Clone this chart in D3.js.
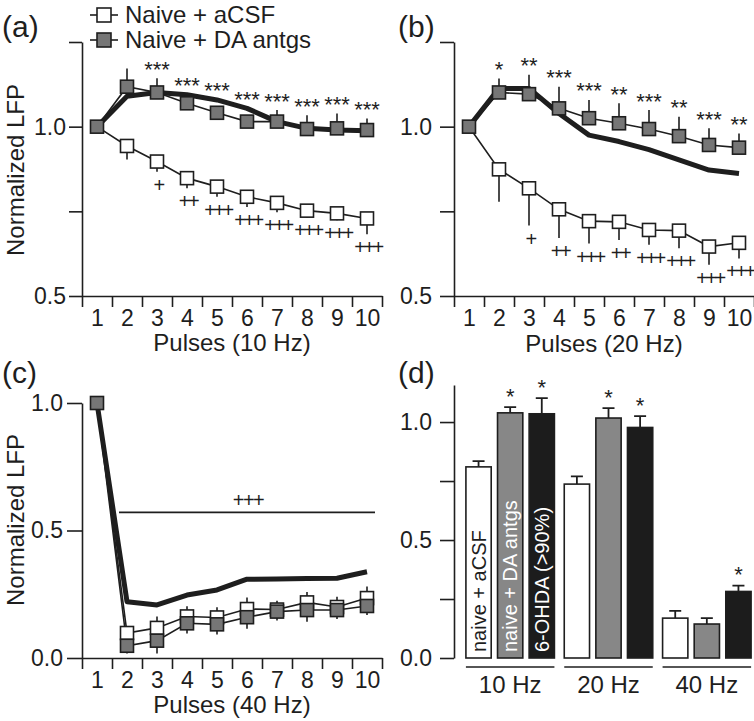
<!DOCTYPE html>
<html><head><meta charset="utf-8">
<script src="https://cdn.jsdelivr.net/npm/d3@7"></script>
<style>
html,body{margin:0;padding:0;background:#fff;}
svg{display:block;font-family:"Liberation Sans",Arial,Helvetica,sans-serif;}
</style></head>
<body>
<svg id="chart" width="754" height="721"></svg>
<script>
// ---------- DATA ----------
const pulses = [1, 2, 3, 4, 5, 6, 7, 8, 9, 10];
const seriesNames = ["Naive + aCSF", "Naive + DA antgs"];

// Panel (a) 10 Hz
const acsfA    = [1.0, 0.943, 0.897, 0.848, 0.823, 0.793, 0.775, 0.752, 0.744, 0.729];
const acsfAErr = [0, 0.040, 0.030, 0.030, 0.030, 0.030, 0.028, 0.020, 0.020, 0.047];
const daA      = [1.0, 1.118, 1.101, 1.069, 1.041, 1.015, 1.015, 0.993, 0.995, 0.990];
const daAErr   = [0, 0.054, 0.042, 0.015, 0.015, 0.015, 0.034, 0.041, 0.044, 0.034];
const ohdaA    = [1.0, 1.090, 1.101, 1.094, 1.079, 1.054, 1.015, 0.995, 0.990, 0.988];
const starsA   = ["", "", "***", "***", "***", "***", "***", "***", "***", "***"];
const plusA    = ["", "", "+", "++", "+++", "+++", "+++", "+++", "+++", "+++"];

// Panel (b) 20 Hz
const acsfB    = [1.0, 0.874, 0.818, 0.756, 0.721, 0.719, 0.695, 0.693, 0.646, 0.657];
const acsfBErr = [0, 0.096, 0.110, 0.085, 0.066, 0.054, 0.044, 0.052, 0.054, 0.046];
const daB      = [1.0, 1.101, 1.096, 1.054, 1.025, 1.010, 0.993, 0.972, 0.946, 0.938];
const daBErr   = [0, 0.041, 0.057, 0.064, 0.054, 0.059, 0.056, 0.057, 0.049, 0.042];
const ohdaB    = [1.0, 1.113, 1.113, 1.039, 0.975, 0.956, 0.932, 0.902, 0.872, 0.862];
const starsB   = ["", "*", "**", "***", "***", "**", "***", "**", "***", "**"];
const plusB    = ["", "", "+", "++", "+++", "++", "+++", "+++", "+++", "+++"];

// Panel (c) 40 Hz
const acsfC    = [1.0, 0.098, 0.118, 0.163, 0.159, 0.192, 0.190, 0.218, 0.200, 0.235];
const acsfCErr = [0, 0.020, 0.045, 0.040, 0.040, 0.045, 0.035, 0.041, 0.040, 0.045];
const daC      = [1.0, 0.048, 0.068, 0.136, 0.132, 0.160, 0.182, 0.188, 0.188, 0.204];
const daCErr   = [0, 0.030, 0.050, 0.040, 0.040, 0.045, 0.035, 0.046, 0.035, 0.035];
const ohdaC    = [1.0, 0.221, 0.208, 0.247, 0.267, 0.309, 0.310, 0.312, 0.313, 0.338];
const sigCLevel = 0.571;
const sigCLabel = "+++";
const sigCFrom = 2, sigCTo = 10;

// Panel (d) bars
const freqs = ["10 Hz", "20 Hz", "40 Hz"];
const conds = ["naive + aCSF", "naive + DA antgs", "6-OHDA (>90%)"];
const barAcsf    = [0.810, 0.737, 0.169];
const barAcsfErr = [0.024, 0.033, 0.031];
const barDa      = [1.039, 1.017, 0.144];
const barDaErr   = [0.024, 0.042, 0.025];
const barOhda    = [1.035, 0.977, 0.282];
const barOhdaErr = [0.066, 0.048, 0.025];
const barStars   = [["", "*", "*"], ["", "*", "*"], ["", "", "*"]];

const yTicksAB = [0.5, 0.75, 1.0, 1.25];
const yTicksC = [0.0, 0.5, 1.0];
const yTicksD = [0.0, 0.25, 0.5, 0.75, 1.0];
const xEdges = [0.5, 1.5, 2.5, 3.5, 4.5, 5.5, 6.5, 7.5, 8.5, 9.5, 10.5];

// ---------- STYLE ----------
const INK = "#1e1e1e";
const GRAY_MK = "#767676";
const GRAY_BAR = "#878787";
const BLACK_BAR = "#1c1c1c";
const FS = 23;

const svg = d3.select("#chart");

function styleAxis(g) {
  g.selectAll("path.domain").attr("stroke", INK).attr("stroke-width", 1.6);
  g.selectAll(".tick line").attr("stroke", INK).attr("stroke-width", 1.6);
  g.selectAll(".tick text").attr("fill", INK).attr("font-size", FS)
    .attr("font-family", '"Liberation Sans",Arial,sans-serif');
}

function linePanel(opt) {
  const g = svg.append("g");
  const x = d3.scaleLinear().domain([0.5, 10.5]).range(opt.xr);
  const y = d3.scaleLinear().domain(opt.yd).range(opt.yr);

  const ya = g.append("g").attr("transform", `translate(${opt.xr[0]},0)`)
    .call(d3.axisLeft(y).tickValues(opt.yTicks).tickSize(opt.tickSize).tickSizeOuter(0)
      .tickPadding(opt.tickPad)
      .tickFormat(d => opt.yLabels.includes(d) ? d3.format(".1f")(d) : ""));
  styleAxis(ya);
  const xa = g.append("g").attr("transform", `translate(0,${opt.yr[0]})`)
    .call(d3.axisBottom(x).tickValues(xEdges).tickSize(11).tickSizeOuter(0).tickFormat(""));
  styleAxis(xa);
  const xl = g.append("g").attr("transform", `translate(0,${opt.yr[0]})`)
    .call(d3.axisBottom(x).tickValues(pulses).tickSize(0).tickPadding(14).tickFormat(d3.format("d")));
  styleAxis(xl);
  xl.select("path.domain").remove();

  g.append("text").attr("x", (opt.xr[0] + opt.xr[1]) / 2).attr("y", opt.xTitleY)
    .attr("text-anchor", "middle").attr("font-size", 24).attr("fill", INK).text(opt.xTitle);
  if (opt.yTitle) {
    g.append("text").attr("transform", `translate(${opt.yTitleX},${opt.yTitleY}) rotate(-90)`)
      .attr("text-anchor", "middle").attr("font-size", 24).attr("fill", INK).text(opt.yTitle);
  }
  g.append("text").attr("x", opt.labelPos[0]).attr("y", opt.labelPos[1])
    .attr("font-size", 30).attr("fill", INK).text(opt.label);

  const idx = pulses.map((p, i) => i);
  const ln = arr => d3.line().x(i => x(pulses[i])).y(i => y(arr[i]));

  g.append("path").attr("d", ln(opt.ohda)(idx)).attr("fill", "none")
    .attr("stroke", INK).attr("stroke-width", 5).attr("stroke-linejoin", "round");

  [opt.acsf, opt.da].forEach(arr => {
    g.append("path").attr("d", ln(arr)(idx)).attr("fill", "none")
      .attr("stroke", INK).attr("stroke-width", 1.6);
  });

  const eb = (arr, err, dir) => g.append("g").selectAll("line").data(idx.filter(i => err[i] > 0)).join("line")
    .attr("x1", i => x(pulses[i])).attr("x2", i => x(pulses[i]))
    .attr("y1", i => y(arr[i])).attr("y2", i => y(arr[i] + dir * err[i]))
    .attr("stroke", INK).attr("stroke-width", 1.6);
  eb(opt.acsf, opt.acsfErr, opt.acsfDir);
  eb(opt.da, opt.daErr, opt.daDir);

  const MS = 13;
  const mk = (arr, fill, ids) => g.append("g").selectAll("rect").data(ids).join("rect")
    .attr("x", i => x(pulses[i]) - MS / 2).attr("y", i => y(arr[i]) - MS / 2)
    .attr("width", MS).attr("height", MS).attr("fill", fill)
    .attr("stroke", INK).attr("stroke-width", 1.6);
  mk(opt.acsf, "#fff", idx.slice(1));
  mk(opt.da, GRAY_MK, idx);

  if (opt.stars) {
    g.append("g").selectAll("text").data(idx.filter(i => opt.stars[i])).join("text")
      .attr("x", i => x(pulses[i])).attr("text-anchor", "middle")
      .attr("y", i => Math.min(y(opt.da[i] + opt.daErr[i]), y(opt.ohda[i]), y(opt.da[i]) - MS / 2) - 1.5)
      .attr("font-size", 22).attr("fill", INK)
      .text(i => opt.stars[i]);
  }
  if (opt.plus) {
    g.append("g").selectAll("text").data(idx.filter(i => opt.plus[i])).join("text")
      .attr("x", i => x(pulses[i]) + 1).attr("text-anchor", "middle")
      .attr("y", i => Math.max(y(opt.acsf[i] - opt.acsfErr[i]), y(opt.acsf[i]) + MS / 2) + 20)
      .attr("font-size", 20).attr("letter-spacing", -2.5).attr("fill", INK)
      .text(i => opt.plus[i]);
  }
  return { g, x, y };
}

// Panel (a)
linePanel({
  xr: [82, 382], yd: [0.5, 1.25], yr: [296, 42], yTicks: yTicksAB, yLabels: [0.5, 1.0],
  tickSize: 13, tickPad: 3,
  xTitle: "Pulses (10 Hz)", xTitleY: 351, yTitle: "Normalized LFP", yTitleX: 24, yTitleY: 170,
  label: "(a)", labelPos: [2, 37],
  acsf: acsfA, acsfErr: acsfAErr, acsfDir: -1, da: daA, daErr: daAErr, daDir: 1, ohda: ohdaA,
  stars: starsA, plus: plusA
});

// Legend
{
  const lg = svg.append("g");
  const rows = [{ name: seriesNames[0], fill: "#fff", cy: 15 }, { name: seriesNames[1], fill: GRAY_MK, cy: 40 }];
  rows.forEach(r => {
    lg.append("line").attr("x1", 90).attr("x2", 118).attr("y1", r.cy).attr("y2", r.cy)
      .attr("stroke", INK).attr("stroke-width", 1.6);
    lg.append("rect").attr("x", 97).attr("y", r.cy - 7).attr("width", 14).attr("height", 14)
      .attr("fill", r.fill).attr("stroke", INK).attr("stroke-width", 1.6);
    lg.append("text").attr("x", 125).attr("y", r.cy + 8).attr("font-size", 24).attr("fill", INK).text(r.name);
  });
}

// Panel (b)
linePanel({
  xr: [454, 754], yd: [0.5, 1.25], yr: [296, 42], yTicks: yTicksAB, yLabels: [0.5, 1.0],
  tickSize: 14, tickPad: 8,
  xTitle: "Pulses (20 Hz)", xTitleY: 352, yTitle: null,
  label: "(b)", labelPos: [398, 37],
  acsf: acsfB, acsfErr: acsfBErr, acsfDir: -1, da: daB, daErr: daBErr, daDir: 1, ohda: ohdaB,
  stars: starsB, plus: plusB
});

// Panel (c)
{
  const p = linePanel({
    xr: [82, 382], yd: [0, 1], yr: [658, 403], yTicks: yTicksC, yLabels: yTicksC,
    tickSize: 15, tickPad: 4,
    xTitle: "Pulses (40 Hz)", xTitleY: 713, yTitle: "Normalized LFP", yTitleX: 24, yTitleY: 520,
    label: "(c)", labelPos: [2, 383],
    acsf: acsfC, acsfErr: acsfCErr, acsfDir: 1, da: daC, daErr: daCErr, daDir: -1, ohda: ohdaC,
    stars: null, plus: null
  });
  p.g.append("line").attr("x1", p.x(sigCFrom) - 8).attr("x2", p.x(sigCTo) + 8)
    .attr("y1", p.y(sigCLevel)).attr("y2", p.y(sigCLevel))
    .attr("stroke", INK).attr("stroke-width", 1.6);
  p.g.append("text").attr("x", (p.x(sigCFrom) + p.x(sigCTo)) / 2 + 1)
    .attr("y", p.y(sigCLevel) - 5).attr("text-anchor", "middle")
    .attr("font-size", 20).attr("letter-spacing", -1.5).attr("fill", INK).text(sigCLabel);
}

// Panel (d)
{
  const g = svg.append("g");
  const y = d3.scaleLinear().domain([0, 1.157]).range([658, 385]);
  const xg = d3.scaleBand().domain(freqs).range([461, 756]).paddingInner(0.1).paddingOuter(0.05);
  const xc = d3.scaleBand().domain(conds).range([0, xg.bandwidth()]).paddingInner(0.2).paddingOuter(0);

  const ya = g.append("g").attr("transform", "translate(454,0)")
    .call(d3.axisLeft(y).tickValues(yTicksD).tickSize(14).tickSizeOuter(0).tickPadding(8)
      .tickFormat(d => [0, 0.5, 1.0].includes(d) ? d3.format(".1f")(d) : ""));
  styleAxis(ya);

  g.append("text").attr("x", 398).attr("y", 383).attr("font-size", 30).attr("fill", INK).text("(d)");

  const vals = [barAcsf, barDa, barOhda];
  const errs = [barAcsfErr, barDaErr, barOhdaErr];
  const fills = ["#fff", GRAY_BAR, BLACK_BAR];
  const txtFill = [INK, "#fff", "#fff"];
  const data = [];
  freqs.forEach((f, fi) => conds.forEach((c, ci) => data.push({ f, fi, c, ci, v: vals[ci][fi], e: errs[ci][fi], s: barStars[fi][ci] })));

  const bx = d => xg(d.f) + xc(d.c);
  const bw = xc.bandwidth();
  g.append("g").selectAll("path").data(data).join("path")
    .attr("d", d => {
      const cx = bx(d) + bw / 2, t = y(d.v + d.e);
      return `M${cx},${y(d.v)}V${t}M${cx - 6},${t}H${cx + 6}`;
    })
    .attr("stroke", INK).attr("stroke-width", 1.8).attr("fill", "none");
  g.append("g").selectAll("rect").data(data).join("rect")
    .attr("x", d => bx(d)).attr("width", bw)
    .attr("y", d => y(d.v)).attr("height", d => y(0) - y(d.v))
    .attr("fill", d => fills[d.ci]).attr("stroke", INK).attr("stroke-width", 1.6);
  g.append("g").selectAll("text").data(data.filter(d => d.s)).join("text")
    .attr("x", d => bx(d) + bw / 2).attr("y", d => y(d.v + d.e) - 3.5)
    .attr("text-anchor", "middle").attr("font-size", 22).attr("fill", INK).text(d => d.s);
  g.append("g").selectAll("text").data(data.filter(d => d.fi === 0)).join("text")
    .attr("transform", d => `translate(${bx(d) + bw / 2 + 7},${y(0) - 6}) rotate(-90)`)
    .attr("font-size", 20).attr("fill", d => txtFill[d.ci]).text(d => d.c);
  g.append("g").selectAll("line").data(freqs).join("line")
    .attr("x1", f => xg(f)).attr("x2", f => xg(f) + xg.bandwidth())
    .attr("y1", 667).attr("y2", 667).attr("stroke", INK).attr("stroke-width", 1.6);
  g.append("g").selectAll("text").data(freqs).join("text")
    .attr("x", f => xg(f) + xg.bandwidth() / 2).attr("y", 693)
    .attr("text-anchor", "middle").attr("font-size", 24).attr("fill", INK).text(f => f);
}
</script>
</body></html>
